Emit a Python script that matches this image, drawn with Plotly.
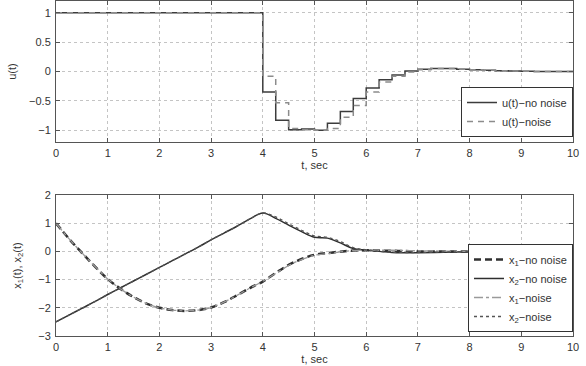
import plotly.graph_objects as go
from plotly.subplots import make_subplots

# ---- top panel: control signal u(t) (zero-order hold, 0.25 s steps)
t_u = [0, 4.0, 4.25, 4.5, 4.75, 5.0, 5.25, 5.5, 5.75, 6.0, 6.25, 6.5, 6.75,
       7.0, 7.25, 7.5, 7.75, 8.0, 8.25, 8.5, 8.75, 9.0, 9.25, 9.5, 9.75, 10.0]
u_no_noise = [1.0, -0.35, -0.83, -0.99, -0.98, -1.0, -0.88, -0.68, -0.46, -0.28, -0.14, -0.06, 0.01,
              0.04, 0.05, 0.05, 0.04, 0.03, 0.02, 0.015, 0.01, 0.005, 0.0, 0.0, 0.0, 0.0]
u_noise = [1.0, -0.08, -0.53, -0.97, -0.99, -1.0, -0.97, -0.78, -0.58, -0.35, -0.18, -0.08, -0.01,
           0.03, 0.05, 0.05, 0.04, 0.03, 0.02, 0.015, 0.01, 0.005, 0.0, 0.0, 0.0, 0.0]

# ---- bottom panel: states x1(t), x2(t)
t_x = [0, 0.25, 0.5, 0.75, 1.0, 1.25, 1.5, 1.75, 2.0, 2.25, 2.5, 2.75, 3.0, 3.25, 3.5, 3.75,
       4.0, 4.25, 4.5, 4.75, 5.0, 5.25, 5.5, 5.75, 6.0, 6.25, 6.5, 6.75, 7.0, 7.5, 8.0, 8.5, 9.0, 9.5, 10.0]
x1_no_noise = [1.0, 0.45, -0.05, -0.53, -0.98, -1.33, -1.62, -1.85, -2.0, -2.08, -2.11, -2.08, -1.99,
               -1.8, -1.56, -1.3, -1.07, -0.77, -0.48, -0.27, -0.12, -0.06, -0.01, 0.03, 0.04, 0.03,
               0.02, 0.01, 0.0, 0.0, 0.0, 0.0, 0.0, 0.0, 0.0]
x2_no_noise = [-2.5, -2.26, -2.02, -1.78, -1.53, -1.29, -1.05, -0.81, -0.57, -0.33, -0.09, 0.15, 0.41,
               0.65, 0.89, 1.15, 1.36, 1.17, 0.93, 0.7, 0.5, 0.47, 0.3, 0.1, 0.05, 0.0, -0.04, -0.05,
               -0.05, -0.03, -0.01, 0.0, 0.0, 0.0, 0.0]
x1_noise = [1.0, 0.45, -0.05, -0.53, -0.98, -1.33, -1.62, -1.85, -2.0, -2.08, -2.11, -2.08, -1.99,
            -1.8, -1.56, -1.3, -1.06, -0.78, -0.5, -0.29, -0.14, -0.08, -0.02, 0.03, 0.05, 0.04,
            0.04, 0.03, 0.02, 0.01, 0.0, 0.0, 0.0, 0.0, 0.0]
x2_noise = [-2.5, -2.26, -2.02, -1.78, -1.53, -1.29, -1.05, -0.81, -0.57, -0.33, -0.09, 0.15, 0.41,
            0.65, 0.89, 1.15, 1.36, 1.22, 0.98, 0.75, 0.55, 0.5, 0.35, 0.13, 0.06, 0.0, -0.03, -0.04,
            -0.04, -0.02, -0.01, 0.0, 0.0, 0.0, 0.0]

x_ticks = [0, 1, 2, 3, 4, 5, 6, 7, 8, 9, 10]
u_ticks = [-1, -0.5, 0, 0.5, 1]
u_tick_labels = ["\u22121", "\u22120.5", "0", "0.5", "1"]
x_state_ticks = [-3, -2, -1, 0, 1, 2]
x_state_tick_labels = ["\u22123", "\u22122", "\u22121", "0", "1", "2"]

FONT = "Liberation Sans, Arial, sans-serif"
DARK = "#3c3c3c"
LIGHT = "#8c8c8c"
TXT = "#333333"
FS = 11

fig = make_subplots(rows=2, cols=1, vertical_spacing=0.0)

fig.add_trace(go.Scatter(x=t_u, y=u_no_noise, mode="lines", line_shape="hv",
                         line=dict(color=DARK, width=1.5), name="u(t)\u2212no noise",
                         legend="legend"), row=1, col=1)
fig.add_trace(go.Scatter(x=t_u, y=u_noise, mode="lines", line_shape="hv",
                         line=dict(color=LIGHT, width=1.5, dash="6px,5px"), name="u(t)\u2212noise",
                         legend="legend"), row=1, col=1)

fig.add_trace(go.Scatter(x=t_x, y=x1_no_noise, mode="lines", line_shape="spline",
                         line=dict(color="#2f2f2f", width=2.5, dash="7px,4px"),
                         name="x<sub>1</sub>\u2212no noise", legend="legend2"), row=2, col=1)
fig.add_trace(go.Scatter(x=t_x, y=x2_no_noise, mode="lines", line_shape="spline",
                         line=dict(color="#2f2f2f", width=1.5),
                         name="x<sub>2</sub>\u2212no noise", legend="legend2"), row=2, col=1)
fig.add_trace(go.Scatter(x=t_x, y=x1_noise, mode="lines", line_shape="spline",
                         line=dict(color="#9a9a9a", width=1.3, dash="dashdot"),
                         name="x<sub>1</sub>\u2212noise", legend="legend2"), row=2, col=1)
fig.add_trace(go.Scatter(x=t_x, y=x2_noise, mode="lines", line_shape="spline",
                         line=dict(color="#555555", width=1.3, dash="dot"),
                         name="x<sub>2</sub>\u2212noise", legend="legend2"), row=2, col=1)

axis_common = dict(showline=True, mirror="ticks", linecolor="#555555", linewidth=1,
                   ticks="inside", ticklen=4, tickcolor="#555555",
                   showgrid=True, gridcolor="#c4c4c4", griddash="dot", gridwidth=1,
                   zeroline=False, automargin=False,
                   tickfont=dict(family=FONT, size=FS, color=TXT))

fig.update_xaxes(range=[0, 10], tickvals=x_ticks, ticklabelstandoff=1, **axis_common)
fig.update_xaxes(title=dict(text="t, sec", font=dict(family=FONT, size=FS, color=TXT),
                            standoff=0))
fig.update_yaxes(ticklabelstandoff=2, **axis_common)
fig.update_yaxes(range=[-1.2, 1.2], tickvals=u_ticks, ticktext=u_tick_labels,
                 title=dict(text="u(t)", font=dict(family=FONT, size=FS, color=TXT),
                            standoff=10), row=1, col=1)
fig.update_yaxes(range=[-3, 2], tickvals=x_state_ticks, ticktext=x_state_tick_labels,
                 title=dict(text="x<sub>1</sub>(t), x<sub>2</sub>(t)",
                            font=dict(family=FONT, size=FS, color=TXT), standoff=14),
                 row=2, col=1)

fig.update_layout(
    width=586, height=366,
    margin=dict(l=56, r=13, t=1, b=30, autoexpand=False),
    paper_bgcolor="white", plot_bgcolor="white",
    font=dict(family=FONT, size=FS, color=TXT),
    xaxis=dict(domain=[0, 1]),
    yaxis=dict(domain=[0.579, 1.0]),
    xaxis2=dict(domain=[0, 1]),
    yaxis2=dict(domain=[0.0, 0.421]),
    legend=dict(x=1.0, xanchor="right", y=0.594, yanchor="bottom",
                bgcolor="white", bordercolor=TXT, borderwidth=1,
                font=dict(family=FONT, size=FS, color=TXT),
                tracegroupgap=0, itemwidth=30),
    legend2=dict(x=1.0, xanchor="right", y=0.012, yanchor="bottom",
                 bgcolor="white", bordercolor=TXT, borderwidth=1,
                 font=dict(family=FONT, size=FS, color=TXT),
                 tracegroupgap=0, itemwidth=30),
    showlegend=True,
)

fig.write_html("out.html", config={"displayModeBar": False},
               post_script="document.body.style.margin='0px';document.body.style.overflow='hidden';")
